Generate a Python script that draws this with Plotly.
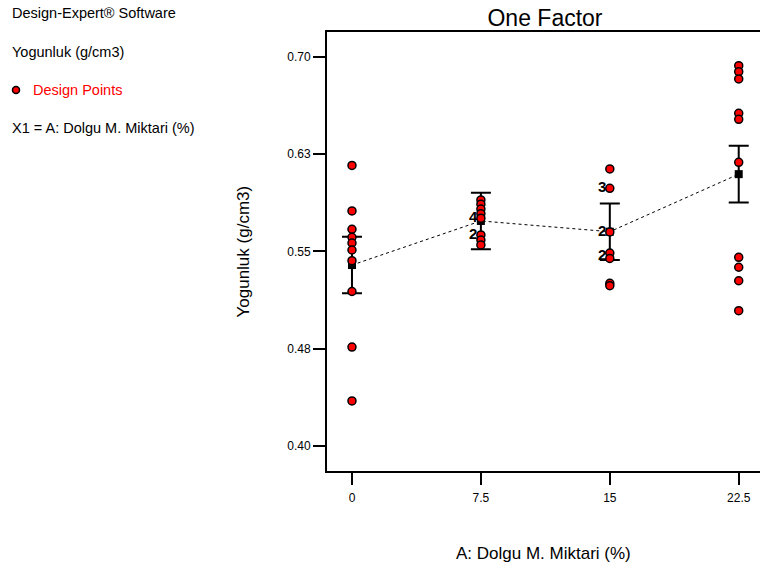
import plotly.graph_objects as go

# ---- data ----
levels = [0, 7.5, 15, 22.5]
x_ticktext = ["0", "7.5", "15", "22.5"]

points_0 = [0.6163, 0.5812, 0.5671, 0.5609, 0.5565, 0.5511, 0.5429, 0.5191, 0.4763, 0.4347]
points_7_5 = [0.5897, 0.5864, 0.5827, 0.5791, 0.5756, 0.5627, 0.5588, 0.5550]
points_15 = [0.6136, 0.5987, 0.5650, 0.5488, 0.5446, 0.5254, 0.5236]
points_22_5 = [0.6932, 0.6886, 0.6830, 0.6565, 0.6519, 0.6187, 0.5455, 0.5378, 0.5274, 0.5043]

means = [0.5395, 0.5735, 0.5652, 0.6096]
lsd_half = [0.0218, 0.0218, 0.0218, 0.0218]

count_x = [7.5, 7.5, 15, 15, 15]
count_y = [0.5756, 0.5627, 0.5987, 0.5650, 0.5460]
count_text = ["4", "2", "3", "2", "2"]

y_tickvals = [0.40, 0.475, 0.55, 0.625, 0.70]
y_ticktext = ["0.40", "0.48", "0.55", "0.63", "0.70"]

FONT = "Arial, Liberation Sans, sans-serif"

fig = go.Figure()

# dotted line connecting means
fig.add_trace(go.Scatter(x=levels, y=means, mode="lines",
                         line=dict(color="black", width=1, dash="dot"),
                         hoverinfo="skip", showlegend=False))

# means with LSD error bars
fig.add_trace(go.Scatter(x=levels, y=means, mode="markers",
                         marker=dict(symbol="square", size=8, color="black"),
                         error_y=dict(type="data", array=lsd_half, symmetric=True,
                                      color="black", thickness=2, width=10),
                         showlegend=False))

# count labels for overlapping points (text trace, drawn below the points)
fig.add_trace(go.Scatter(x=count_x, y=count_y, mode="markers+text",
                         marker=dict(size=4, color="rgba(0,0,0,0)"),
                         text=["<b>" + t + "</b>" for t in count_text],
                         textposition="middle left",
                         textfont=dict(family=FONT, size=15, color="black"),
                         hoverinfo="skip", showlegend=False))

# design points
groups = [points_0, points_7_5, points_15, points_22_5]
for lvl, pts in zip(levels, groups):
    fig.add_trace(go.Scatter(x=[lvl] * len(pts), y=pts, mode="markers",
                             marker=dict(color="red", size=8,
                                         line=dict(color="black", width=1.5)),
                             showlegend=False))

# left-side info text
info = [
    (-0.732, 1.043, "Design-Expert® Software", "black"),
    (-0.732, 0.954, "Yogunluk (g/cm3)", "black"),
    (-0.6835, 0.868, "Design Points", "red"),
    (-0.732, 0.782, "X1 = A: Dolgu M. Miktari (%)", "black"),
]
for ix, iy, txt, col in info:
    fig.add_annotation(xref="paper", yref="paper", x=ix, y=iy, text=txt,
                       showarrow=False, xanchor="left", yanchor="middle",
                       font=dict(family=FONT, size=14.5, color=col))

fig.add_shape(type="circle", xref="paper", yref="paper",
              xsizemode="pixel", ysizemode="pixel",
              xanchor=(16 - 327) / 433, yanchor=0.868,
              x0=-3.5, x1=3.5, y0=-3.5, y1=3.5,
              fillcolor="red", line=dict(color="black", width=1.5))

# axis titles
fig.add_annotation(xref="paper", yref="paper", x=0.5, y=(471 - 553) / 439,
                   text="A: Dolgu M. Miktari (%)", showarrow=False,
                   xanchor="center", yanchor="middle",
                   font=dict(family=FONT, size=17, color="black"))
fig.add_annotation(xref="paper", yref="paper", x=(243 - 327) / 433, y=0.5,
                   text="Yogunluk (g/cm3)", showarrow=False, textangle=-90,
                   xanchor="center", yanchor="middle",
                   font=dict(family=FONT, size=17, color="black"))

fig.update_layout(
    width=760, height=572,
    margin=dict(l=327, r=0, t=32, b=101),
    paper_bgcolor="white", plot_bgcolor="white",
    title=dict(text="One Factor", x=(545 - 327) / 433, xref="paper",
               xanchor="center", y=1 - 18 / 572, yanchor="middle",
               font=dict(family=FONT, size=23, color="black")),
    xaxis=dict(range=[-1.453, 23.738], tickvals=levels, ticktext=x_ticktext,
               showgrid=False, zeroline=False, showline=True, mirror=True,
               linecolor="black", linewidth=2, ticks="outside", ticklen=12,
               tickwidth=2, tickcolor="black", ticklabelstandoff=3,
               tickfont=dict(family=FONT, size=12, color="black")),
    yaxis=dict(range=[0.3807, 0.7192], tickvals=y_tickvals, ticktext=y_ticktext,
               showgrid=False, zeroline=False, showline=True, mirror=False,
               linecolor="black", linewidth=2, ticks="outside", ticklen=12,
               tickwidth=2, tickcolor="black",
               tickfont=dict(family=FONT, size=12, color="black")),
    font=dict(family=FONT),
)

fig.write_html("out.html")
